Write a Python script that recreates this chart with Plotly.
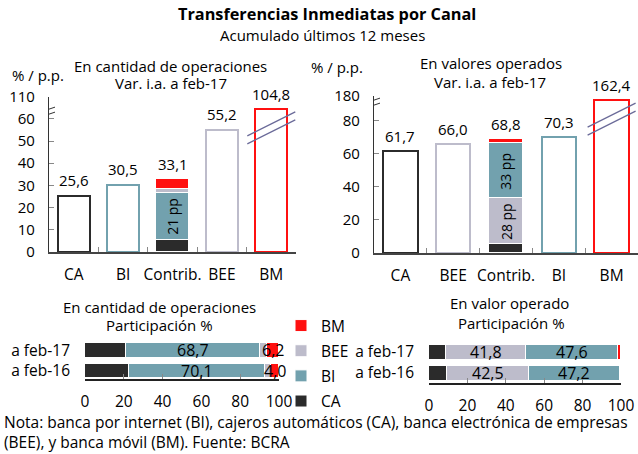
import plotly.graph_objects as go

# --- data -------------------------------------------------------------
# Var. i.a. a feb-17 (%), cantidad de operaciones
cant_cats = ["CA", "BI", "Contrib.", "BEE", "BM"]
cant_var = [25.6, 30.5, None, 55.2, 104.8]
cant_contrib = {"CA": 5.4, "BI": 21.3, "BEE": 1.8, "BM": 4.6}   # total 33,1
cant_contrib_total = 33.1

# Var. i.a. a feb-17 (%), valores operados
val_cats = ["CA", "BEE", "Contrib.", "BI", "BM"]
val_var = [61.7, 66.0, None, 70.3, 162.4]
val_contrib = {"CA": 5.4, "BEE": 27.8, "BI": 33.1, "BM": 2.5}  # total 68,8
val_contrib_total = 68.8

# Participacion %
periodos = ["a feb-16", "a feb-17"]
part_cant = {"CA": [22.6, 21.3], "BI": [70.1, 68.7], "BEE": [3.3, 3.8], "BM": [4.0, 6.2]}
part_val = {"CA": [9.6, 8.9], "BEE": [42.5, 41.8], "BI": [47.2, 47.6], "BM": [0.7, 1.7]}

colors = {"CA": "#2b2b2b", "BI": "#72a1ae", "BEE": "#bdbccb", "BM": "#ff1010"}
FONT = "Open Sans"
FS = 15
BREAK_COLOR = "#6b6b99"


def fmt(v):
    return f"{v:.1f}".replace(".", ",")


fig = go.Figure()

# --- top charts -------------------------------------------------------
top = [
    dict(cats=cant_cats, var=cant_var, contrib=cant_contrib, total=cant_contrib_total,
         order=["CA", "BI", "BEE", "BM"], pp=["BI"], cap=64.5, brk=63,
         top_val=70, top_txt="110", ticks=[0, 10, 20, 30, 40, 50, 60],
         xa="x", ya="y", dom_x=[49 / 638, 296 / 638], dom_y=[1 - 252 / 454, 1 - 96.6 / 454]),
    dict(cats=val_cats, var=val_var, contrib=val_contrib, total=val_contrib_total,
         order=["CA", "BEE", "BI", "BM"], pp=["BEE", "BI"], cap=92.5, brk=90.7,
         top_val=95, top_txt="180", ticks=[0, 20, 40, 60, 80],
         xa="x2", ya="y2", dom_x=[374 / 638, 1.0], dom_y=[1 - 253 / 454, 1 - 96 / 454]),
]

annotations = []
shapes = []

for t in top:
    heights = [None if v is None else min(v, t["cap"]) for v in t["var"]]
    line_cols = [colors.get(c, "white") for c in t["cats"]]
    fig.add_trace(go.Bar(
        x=t["cats"], y=heights, xaxis=t["xa"], yaxis=t["ya"], width=0.65,
        marker=dict(color="white", line=dict(color=line_cols, width=2)),
        showlegend=False, hoverinfo="skip"))
    base = 0
    for k in t["order"]:
        v = t["contrib"][k]
        fig.add_trace(go.Bar(
            x=["Contrib."], y=[v], xaxis=t["xa"], yaxis=t["ya"], width=0.65,
            marker=dict(color=colors[k], line=dict(color="white", width=1)),
            showlegend=False, hoverinfo="skip"))
        if k in t["pp"]:
            annotations.append(dict(
                x="Contrib.", y=base + v / 2, xref=t["xa"], yref=t["ya"],
                text=f"{round(v):.0f} pp", textangle=-90, showarrow=False,
                font=dict(size=14, color="black", family=FONT)))
        base += v
    # value labels
    for c, v, h in zip(t["cats"], t["var"], heights):
        if v is None:
            v, h = t["total"], t["total"]
        annotations.append(dict(
            x=c, y=h, xref=t["xa"], yref=t["ya"], text=fmt(v), showarrow=False,
            yanchor="middle", yshift=15, font=dict(size=FS, color="black", family=FONT)))
    # break marks across the BM bar
    for y0, y1 in [(-27, -3), (-35, -11)]:
        shapes.append(dict(
            type="line", xref=t["xa"], yref=t["ya"], xsizemode="pixel", ysizemode="pixel",
            xanchor=4, yanchor=t["cap"], x0=-24, x1=24, y0=y0, y1=y1,
            line=dict(color=BREAK_COLOR, width=1.3)))
    # break marks on the y axis
    for dy in (0, 5):
        shapes.append(dict(
            type="line", xref=t["xa"], yref=t["ya"], xsizemode="pixel", ysizemode="pixel",
            xanchor=-0.5, yanchor=t["brk"], x0=-6, x1=6, y0=-4 + dy, y1=0 + dy,
            line=dict(color="#333333", width=1)))

    ax_n = t["xa"][1:]
    fig.layout["xaxis" + ax_n] = dict(
        domain=t["dom_x"], anchor=t["ya"], type="category", tickson="boundaries",
        ticks="inside", ticklen=5, tickcolor="#888888", showline=True, tickangle=0,
        linecolor="#444444", linewidth=1.5, showgrid=False, ticklabelstandoff=8,
        automargin=False,
        tickfont=dict(size=FS + 0.5, family=FONT, color="black"), range=[-0.5, 4.5])
    fig.layout["yaxis" + ax_n] = dict(
        domain=t["dom_y"], anchor=t["xa"], range=[0, t["top_val"]],
        tickvals=t["ticks"] + [t["top_val"]],
        ticktext=[str(v) for v in t["ticks"]] + [t["top_txt"]],
        ticks="inside", ticklen=5, tickcolor="#888888", showline=True,
        linecolor="#333333", linewidth=1.2, showgrid=False, zeroline=False,
        ticklabelstandoff=10, automargin=False,
        tickfont=dict(size=FS, family=FONT, color="black"))

# --- bottom charts ----------------------------------------------------
bottom = [
    dict(part=part_cant, order=["CA", "BI", "BEE", "BM"], labels=["BI", "BM"],
         xa="x3", ya="y3", dom_x=[85 / 638, 279 / 638], dom_y=[1 - 379 / 454, 1 - 340 / 454],
         yr=[-0.39, 1.5], legend=True),
    dict(part=part_val, order=["CA", "BEE", "BI", "BM"], labels=["BEE", "BI"],
         xa="x4", ya="y4", dom_x=[429 / 638, 621 / 638], dom_y=[1 - 383 / 454, 1 - 341.5 / 454],
         yr=[-0.48, 1.5], legend=False),
]
legend_rank = {"BM": 1, "BEE": 2, "BI": 3, "CA": 4}

for b in bottom:
    base = [0] * len(periodos)
    for k in b["order"]:
        vals = b["part"][k]
        fig.add_trace(go.Bar(
            x=vals, y=[0, 1], orientation="h", xaxis=b["xa"], yaxis=b["ya"], width=0.72,
            marker=dict(color=colors[k], line=dict(color="white", width=1)),
            name=k, legendgroup=k, legendrank=legend_rank[k],
            showlegend=b["legend"], hoverinfo="skip"))
        if k in b["labels"]:
            for i, v in enumerate(vals):
                annotations.append(dict(
                    x=base[i] + v / 2, y=i, xref=b["xa"], yref=b["ya"], text=fmt(v),
                    showarrow=False, font=dict(size=FS + 1, color="black", family=FONT)))
        base = [bb + v for bb, v in zip(base, vals)]
    ax_n = b["xa"][1:]
    fig.layout["xaxis" + ax_n] = dict(
        domain=b["dom_x"], anchor=b["ya"], range=[0, 100], tickvals=[0, 20, 40, 60, 80, 100],
        ticks="inside", ticklen=5, tickcolor="#888888", showline=True, linecolor="#222222",
        linewidth=1.5, showgrid=False, zeroline=False, ticklabelstandoff=8, automargin=False,
        tickangle=0, tickfont=dict(size=FS + 0.5, family=FONT, color="black"))
    fig.layout["yaxis" + ax_n] = dict(
        domain=b["dom_y"], anchor=b["xa"], range=b["yr"], tickvals=[0, 1], ticktext=periodos,
        showline=False, showgrid=False, zeroline=False, ticklabelstandoff=14, automargin=False,
        tickfont=dict(size=FS + 0.5, family=FONT, color="black"))

# --- titles / notes ---------------------------------------------------
def txt(text, xpx, ypx, size=FS, anchor="center", bold=False):
    annotations.append(dict(
        x=xpx / 638, y=1 - ypx / 454, xref="paper", yref="paper", text=f"<b>{text}</b>" if bold else text,
        showarrow=False, xanchor=anchor, yanchor="middle",
        font=dict(size=size, color="black", family=FONT)))


txt("Transferencias Inmediatas por Canal", 327, 14, size=16.3, bold=True)
txt("Acumulado últimos 12 meses", 322, 35)
txt("% / p.p.", 38, 75)
txt("En cantidad de operaciones", 170, 66)
txt("Var. i.a. a feb-17", 171, 83)
txt("% / p.p.", 337, 67)
txt("En valores operados", 491, 63)
txt("Var. i.a. a feb-17", 490, 82)
txt("En cantidad de operaciones", 159, 307)
txt("Participación %", 159, 325)
txt("En valor operado", 510, 303)
txt("Participación %", 511, 323)
txt("Nota: banca por internet (BI), cajeros automáticos (CA), banca electrónica de empresas", 2, 422,
    size=15.5, anchor="left")
txt("(BEE), y banca móvil (BM). Fuente: BCRA", 2, 442, size=15.5, anchor="left")

fig.update_layout(
    template="none",
    width=638, height=454, margin=dict(l=0, r=0, t=0, b=0, autoexpand=False),
    paper_bgcolor="white", plot_bgcolor="white", barmode="stack", bargap=0,
    font=dict(family=FONT, size=FS, color="black"),
    annotations=annotations, shapes=shapes,
    showlegend=True,
    legend=dict(x=281 / 638, y=1 - 309 / 454, xanchor="left", yanchor="top",
                tracegroupgap=2, font=dict(size=FS + 0.5, family=FONT), itemwidth=30,
                bgcolor="rgba(0,0,0,0)"),
)

# page body margin would shift the 638x454 figure inside the window
fig.write_html("out.html", config={"displayModeBar": False},
               post_script="document.body.style.margin='0';")
